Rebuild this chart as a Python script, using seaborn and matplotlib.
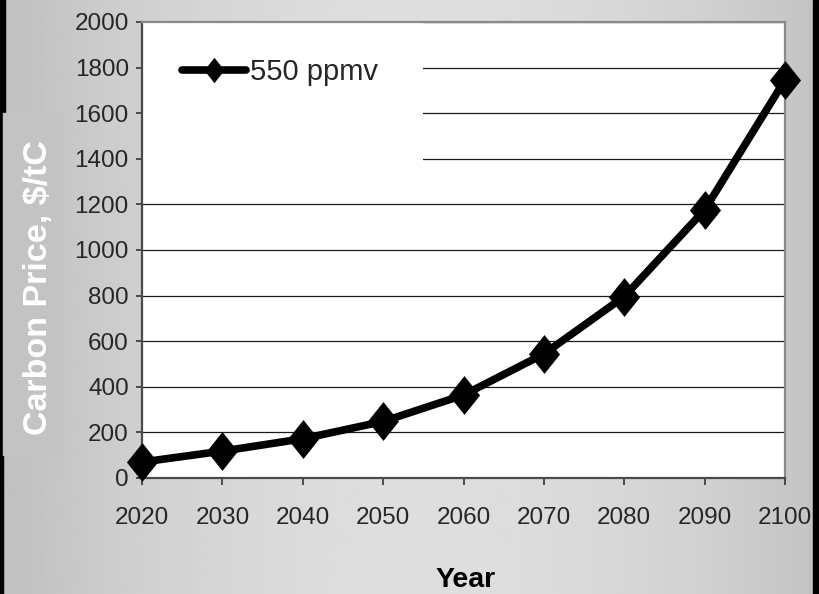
import numpy as np
import pandas as pd
import matplotlib
matplotlib.use("Agg")
import matplotlib.pyplot as plt
from matplotlib.patches import Rectangle
import seaborn as sns

# Carbon price path for the 550 ppmv stabilisation scenario
years = [2020, 2030, 2040, 2050, 2060, 2070, 2080, 2090, 2100]
price = [70, 118, 172, 248, 364, 544, 796, 1176, 1746]
series_name = "550 ppmv"
y_ticks = list(range(0, 2001, 200))
x_ticks = years

df = pd.DataFrame({"Year": years, "Price": price, "Scenario": series_name})

sns.set_theme(style="white")
plt.rcParams["font.family"] = ["Liberation Sans", "DejaVu Sans"]

W, H = 820, 594
fig = plt.figure(figsize=(W / 100, H / 100), dpi=100)

# grey horizontal gradient behind everything
bg = fig.add_axes([0, 0, 1, 1], zorder=-10)
xs = np.linspace(0, 1, 400)
shade = 0.755 + 0.115 * np.clip(1 - ((xs - 0.52) / 0.5) ** 2, 0, 1)
bg.imshow(np.tile(shade, (2, 1)), cmap="gray", vmin=0, vmax=1,
          aspect="auto", extent=[0, 1, 0, 1], interpolation="bilinear")
bg.set_axis_off()
# dark edge strips and the panel behind the y label
fig.patches.append(Rectangle((0, 0), 3 / W, 1, transform=fig.transFigure,
                             color="black", zorder=-5))
fig.patches.append(Rectangle((0, 1 - 113 / H), 5 / W, 113 / H,
                             transform=fig.transFigure, color="black",
                             zorder=-5))
fig.patches.append(Rectangle((813 / W, 0), 1, 1, transform=fig.transFigure,
                             color="black", zorder=-5))
fig.patches.append(Rectangle((3 / W, 1 - 455 / H), 59 / W, (455 - 113) / H,
                             transform=fig.transFigure, color="#c3c3c3",
                             zorder=-4))

ax = fig.add_axes([142 / W, 1 - 478 / H, (785 - 142) / W, (478 - 22) / H])
ax.set_facecolor("white")

# tall diamond marker
diamond = [(0, 1), (0.8, 0), (0, -1), (-0.8, 0), (0, 1)]

sns.lineplot(data=df, x="Year", y="Price", hue="Scenario",
             palette=["black"], marker=diamond, markersize=28,
             markeredgewidth=0, linewidth=5.5, ax=ax, clip_on=False,
             zorder=5, legend=True)

ax.set_xlim(2020, 2100)
ax.set_ylim(0, 2000)
ax.set_xticks(x_ticks)
ax.set_yticks(y_ticks)
ax.yaxis.grid(True, color="#1a1a1a", linewidth=0.9)
ax.xaxis.grid(False)
ax.set_axisbelow(True)

for side in ("top", "right"):
    ax.spines[side].set_color("#8a8a8a")
    ax.spines[side].set_linewidth(1.6)
for side in ("left", "bottom"):
    ax.spines[side].set_color("#4a4a4a")
    ax.spines[side].set_linewidth(1.6)

ax.tick_params(axis="x", direction="out", length=5, width=1.2,
               color="#333333", pad=16, labelsize=17.5, bottom=True)
ax.tick_params(axis="y", direction="out", length=4.5, width=1.2,
               color="#333333", pad=5, labelsize=17.5, left=True)
ax.set_xlabel("")
ax.set_ylabel("")

# white block behind the legend entry hides the upper grid lines
ax.add_patch(Rectangle((0, 0.65), 0.437, 0.35, transform=ax.transAxes,
                       facecolor="white", edgecolor="none", zorder=1))

ax.legend(loc="center left", bbox_to_anchor=(0.062, 0.89), frameon=False,
          fontsize=21, handlelength=2.2, handletextpad=0.15,
          borderpad=0, borderaxespad=0, markerscale=0.65)

fig.text(466 / W, 1 - 587 / H, "Year", fontsize=20.5, fontweight="bold",
         ha="center", va="baseline", color="black")
fig.text(47 / W, 1 - 288 / H, "Carbon Price, $/tC", fontsize=24.5,
         fontweight="bold", color="white", rotation=90,
         rotation_mode="anchor", ha="center", va="baseline")

fig.savefig("out.png", dpi=100)
